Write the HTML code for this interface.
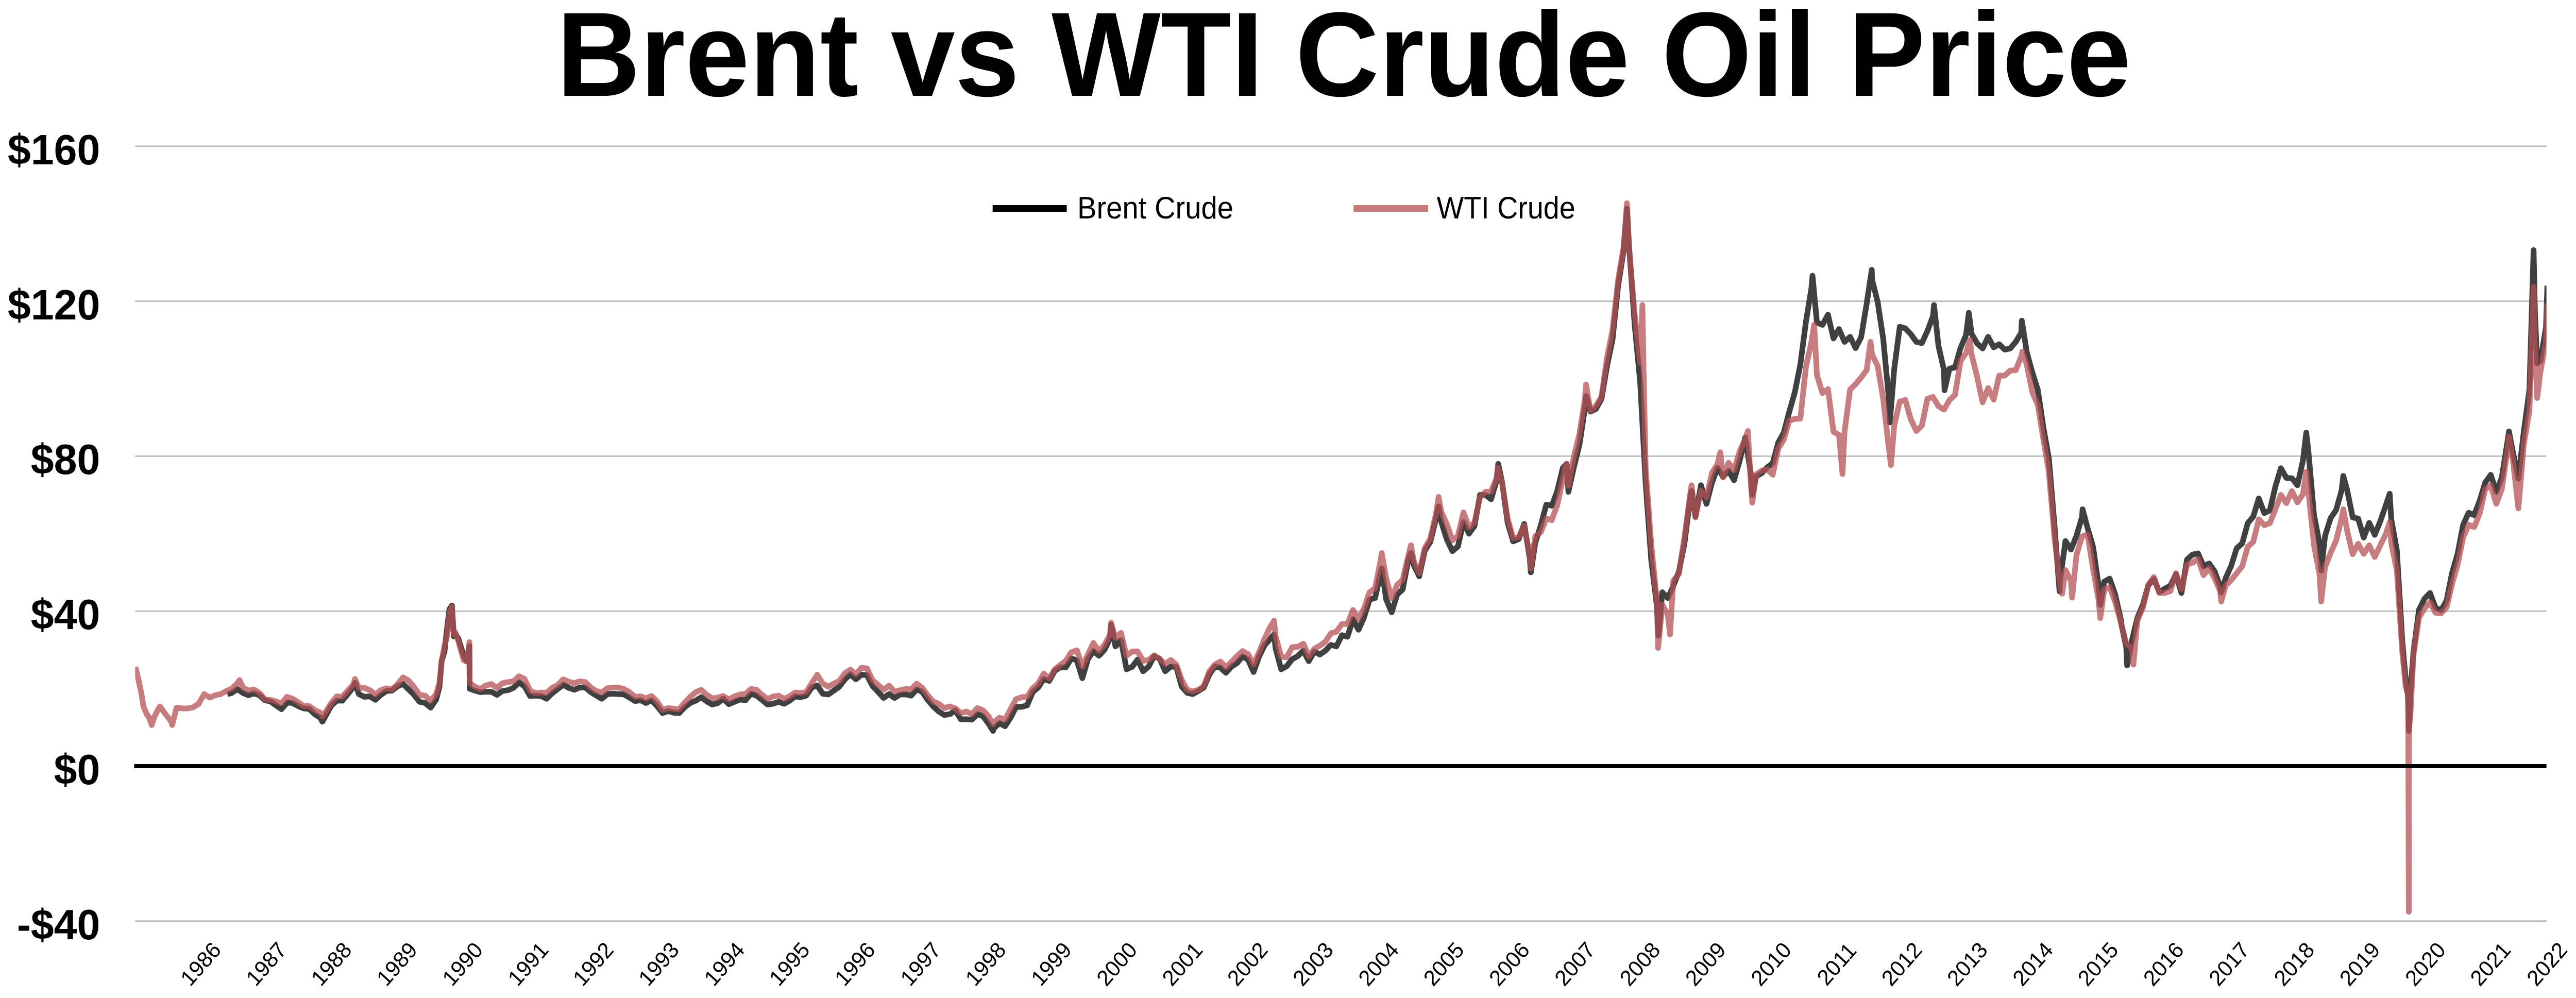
<!DOCTYPE html>
<html>
<head>
<meta charset="utf-8">
<style>
  html, body { margin: 0; padding: 0; background: #ffffff; width: 100%; height: 100%; overflow: hidden; }
  svg { display: block; position: fixed; left: 0; top: 0; width: 100vw; height: 100vh; }
  text { font-family: "Liberation Sans", Arial, Helvetica, sans-serif; }
</style>
</head>
<body>
<svg xmlns="http://www.w3.org/2000/svg" viewBox="0 0 5146 1937" preserveAspectRatio="none">
  <rect x="0" y="0" width="5146" height="1937" fill="#ffffff"/>
  <defs>
    <clipPath id="plot"><rect x="270" y="0" width="4817" height="1937"/></clipPath>
  </defs>

  <!-- Title -->
  <text x="1112" y="186" font-size="233" font-weight="bold" fill="#000" textLength="3145" lengthAdjust="spacingAndGlyphs">Brent vs WTI Crude Oil Price</text>

  <!-- Gridlines -->
  <g stroke="#bfbfbf" stroke-width="3">
    <line x1="270" y1="283.8" x2="5087" y2="283.8"/>
    <line x1="270" y1="584.6" x2="5087" y2="584.6"/>
    <line x1="270" y1="885.4" x2="5087" y2="885.4"/>
    <line x1="270" y1="1186.2" x2="5087" y2="1186.2"/>
    <line x1="270" y1="1787.8" x2="5087" y2="1787.8"/>
  </g>

  <!-- Y labels -->
  <g font-size="83" font-weight="bold" fill="#000" text-anchor="end">
    <text x="200" y="319">$160</text>
    <text x="200" y="620">$120</text>
    <text x="200" y="920">$80</text>
    <text x="200" y="1221">$40</text>
    <text x="200" y="1522">$0</text>
    <text x="200" y="1823">-$40</text>
  </g>

  <!-- Legend -->
  <rect x="1983" y="398" width="148" height="13" fill="#000"/>
  <text x="2152" y="424" font-size="60" fill="#000" textLength="312" lengthAdjust="spacingAndGlyphs">Brent Crude</text>
  <rect x="2704" y="398" width="149" height="13" fill="rgb(199,120,122)"/>
  <text x="2870" y="424" font-size="60" fill="#000" textLength="277" lengthAdjust="spacingAndGlyphs">WTI Crude</text>

  <!-- Data -->
  <g clip-path="url(#plot)">
    <g transform="translate(275.5,1487) scale(11.0333,-7.52)">
      <!-- Brent -->
      <polyline fill="none" stroke="#404040" stroke-width="11" vector-effect="non-scaling-stroke" stroke-linejoin="round" points="
16.2,18.6 17,18.9 18,19.9 19,18.9 20,18.3 21,18.8 22,18.3 23,17.0
24,16.7 25,15.7 26,14.7 27,16.4 28,16.3 29,15.5 30,14.9 31,14.8 32,13.4 33,12.5 33.4,11.5 34,13.0 35,15.6
36,16.9 37,16.9 38,18.6 39,20.4 39.3,21.5 40,18.6 41,17.9 42,18.0 43,17.1 44,18.4 45,19.4 46,19.5 47,20.6
48,21.2 49,19.8 50,18.4 51,16.6 52,16.3 53,15.1 54,17.2 54.6,20.5 55,27.2 55.5,29.5 56,35.9 56.4,40.5 56.86,41.45 57.2,33.5 57.5,34 58,33.0 59,28.4
59.6,27 60.02,31 60.06,20 61,19.5 62,19.1 63,19.2 64,19.2 65,18.4 66,19.4 67,19.6 68,20.2 69,21.6 70,20.6 71,18.1
72,18.2 73,18.1 74,17.4 75,18.8 76,19.9 77,21.0 78,20.2 79,19.7 80,20.3 81,20.3 82,19.1 83,18.2
84,17.4 85,18.6 86,18.7 87,18.6 88,18.5 89,17.7 90,16.8 91,17.0 92,16.3 93,17.0 94,15.5 95,13.7
96,14.2 97,13.8 98,13.7 99,15.2 100,16.3 101,16.9 102,17.8 103,16.7 104,15.9 105,16.3 106,17.4 107,16.0
108,16.6 109,17.2 110,17.0 111,18.7 112,18.2 113,17.1 114,15.9 115,16.1 116,16.6 117,16.1 118,16.9 119,18.0
120,17.8 121,18.2 122,20.3 123,20.8 124,18.7 125,18.5 126,19.5 127,20.5 128,22.4 129,23.7 130,22.4 131,23.6
132,23.5 133,20.7 134,19.2 135,17.6 136,18.6 137,17.6 138,18.5 139,18.5 140,18.2 141,19.8 142,19.2 143,17.1
144,15.4 145,14.1 146,13.2 147,13.4 148,14.4 149,12.1 150,12.1 151,12.0 152,13.4 153,12.9 154,11.0 154.83,9.1 155,9.8
156,11.1 157,10.3 158,12.5 159,15.3 160,15.3 161,15.7 162,19.1 163,20.3 164,22.5 165,22.0 166,24.6 167,25.5
168,25.5 169,27.8 170,27.3 171,22.7 172,27.6 173,29.7 174,28.5 175,30.0 176,33.0 176.2,36.5 177,30.9 178,32.5 179,25.0
180,25.6 181,27.5 182,24.5 183,25.7 184,28.4 185,27.7 186,24.5 187,25.7 188,25.6 189,20.5 190,18.9 191,18.6
192,19.4 193,20.3 194,23.7 195,25.7 196,25.4 197,24.1 198,25.7 199,26.6 200,28.3 201,27.5 202,24.3 203,28.3
204,31.2 205,32.8 205.7,34 206,30.3 207,25.0 208,25.8 209,27.6 210,28.4 211,29.8 212,27.1 213,29.6 214,28.8 215,29.8
216,31.3 217,30.9 218,33.8 219,33.4 220,37.9 221,35.2 222,38.4 223,43.0 224,43.4 225,49.8 225.2,51 226,43.1 227,39.7
228,44.3 229,45.6 230,53.1 230.5,55 231,51.9 232,49.0 233,55.6 234,57.9 235,63.7 235.5,67 236,63.0 237,58.5 238,55.5 239,56.7
240,63.0 241,60.0 242,62.0 243,70.0 244,70.0 245,68.9 246,73.7 246.3,78 247,73.2 248,62.8 249,58.0 250,58.6 251,62.5
252,53.7 252.2,50 253,57.6 254,62.1 255,67.5 256,67.2 257,71.1 258,77.0 258.7,78 259,70.8 260,77.2 261,82.9 262,92.5 262.2,95.5 263,91.5
264,92.2 265,94.8 266,103.3 267,110.2 268,123.9 269,133.1 269.6,143.9 270,133.9 271,113.9 272,99.1 273,72.7 274,53.2 275,41.6 275.3,33.7
276,44.9 277,43.4 278,46.5 279,50.2 280,57.3 281,68.6 281.3,71 282,64.4 283,72.5 284,67.7 285,73.2 286,77.0 287,74.7
288,76.2 289,73.8 290,78.8 291,84.8 292,75.9 292.3,70 293,74.8 294,75.6 295,77.1 296,78.2 297,83.5 298,86.1 299,91.5
300,96.5 301,103.7 302,114.6 303,123.3 303.2,126.6 304,114.5 305,113.9 306,116.5 307,110.4 308,112.8 309,109.5 310,110.8 311,107.9
312,110.7 313,119.3 313.93,128.1 314,125.5 315,119.8 316,110.3 317,95.2 317.2,88.7 318,102.6 319,113.4 320,113.0 321,111.5 322,109.5 323,109.2
324,112.3 325,116.1 325.2,119 326,108.5 327,102.3 327.1,97 328,102.6 329,102.9 330,107.9 331,111.3 331.5,117 332,111.6 333,109.1 334,107.8 335,110.8
336,108.1 337,108.9 338,107.5 339,107.8 340,109.5 341,111.9 341.1,115 342,106.8 343,101.6 344,97.1 345,87.4 346,79.4 347,62.3
347.93,45.1 348,47.8 349,58.1 350,55.9 351,59.5 352,64.3 352.1,66.3 353,61.5 354,56.6 355,46.5 355.3,41.6 356,47.6 357,48.4 358,44.3 359,38.0 359.2,36.1
360,30.7 360.16,26.0 361,32.2 362,38.2 363,41.6 364,46.7 365,48.3 366,44.9 367,45.8 368,46.6 369,49.5 370,44.7 371,53.3
372,54.6 373,54.9 374,51.6 375,52.3 376,50.3 377,46.4 377.2,44.8 378,48.5 379,51.7 380,56.2 381,57.5 382,62.7 383,64.4
384,69.1 385,65.3 386,66.0 387,72.1 388,76.9 389,74.4 390,74.3 391,72.5 392,78.9 392.6,86.1 393,81.0 394,64.8 395,57.4 395.3,50.5
396,59.4 397,64.0 398,66.1 399,71.2 399.3,74.9 400,71.3 401,64.2 402,63.9 403,59.0 404,62.8 405,59.7 406,63.2 407,67.3
407.7,70.3 408,63.6 409,55.7 410,32.0 410.6,22.5 411,18.4 411.19,9.1 411.5,20 412,29.4 413,40.3 414,43.2 415,44.7 416,40.9 417,40.2 418,42.7 419,49.9
420,54.8 421,62.3 422,65.4 423,64.8 424,68.5 425,73.2 426,75.2 427,70.8 428,74.5 429,83.5 429.3,86.4 430,81.1 431,74.2
432,86.5 433,97.1 433.76,133.2 434,117.3 434.4,104 435,104.6 436,113.3 436.25,124"/>
      <!-- WTI -->
      <polyline fill="none" stroke="rgb(180,80,84)" stroke-opacity="0.75" stroke-width="11" vector-effect="non-scaling-stroke" stroke-linejoin="round" points="
-0.45,25.6 0,22.9 0.6,19.0 1,15.4 1.6,13.4 2,12.6 2.5,10.6 3,12.8 3.6,14.5 4,15.4 5,13.4 6,11.6 6.2,10.6 7,15.1 8,14.9 9,14.9 10,15.2 11,16.1
12,18.6 13,17.7 14,18.3 15,18.6 16,19.4 17,20.0 18,21.4 18.4,22.2 19,20.3 20,19.5 21,19.8 22,18.9 23,17.2
24,17.1 25,16.7 26,16.2 27,17.9 28,17.4 29,16.5 30,15.5 31,15.5 32,14.5 33,13.8 33.4,12.8 34,14.0 35,16.3
36,18.0 37,17.9 38,19.5 39,21.1 39.3,22.5 40,20.2 41,20.2 42,19.6 43,18.5 44,19.6 45,20.1 46,19.8 47,21.1
48,22.9 49,22.1 50,20.4 51,18.4 52,18.2 53,16.9 54,18.6 54.6,21.5 55,27.2 55.5,31 56,33.7 56.4,39.5 56.86,41.1 57.2,34 57.5,34.5 58,32.3 59,27.3
59.6,27 60.02,32 60.06,21.5 61,20.5 62,19.9 63,20.8 64,21.2 65,20.2 66,21.4 67,21.7 68,21.9 69,23.2 70,22.5 71,19.5
72,18.8 73,19.0 74,18.9 75,20.2 76,20.9 77,22.4 78,21.8 79,21.4 80,21.9 81,21.7 82,20.3 83,19.4
84,19.0 85,20.1 86,20.3 87,20.3 88,19.9 89,19.1 90,17.9 91,18.0 92,17.5 93,18.1 94,16.7 95,14.5
96,15.0 97,14.8 98,14.7 99,16.4 100,17.9 101,19.1 102,19.7 103,18.4 104,17.5 105,17.7 106,18.1 107,17.2
108,18.0 109,18.5 110,18.6 111,19.9 112,19.7 113,18.4 114,17.3 115,18.0 116,18.2 117,17.4 118,18.0 119,19.0
120,18.9 121,19.1 122,21.4 123,23.6 124,21.3 125,20.5 126,21.3 127,22.0 128,24.0 129,24.9 130,23.7 131,25.4
132,25.2 133,22.2 134,21.0 135,19.7 136,20.8 137,19.2 138,19.6 139,19.9 140,19.8 141,21.3 142,20.2 143,18.3
144,16.7 145,16.1 146,15.0 147,15.4 148,14.9 149,13.7 150,14.1 151,13.4 152,15.0 153,14.4 154,12.9 154.83,10.8 155,11.3
156,12.5 157,12.0 158,14.7 159,17.3 160,17.8 161,17.9 162,20.1 163,21.3 164,23.9 165,22.6 166,25.0 167,26.1
168,27.2 169,29.4 170,29.9 171,25.7 172,28.8 173,31.8 174,29.7 175,31.3 176,33.9 176.2,37 177,33.1 178,34.4 179,28.5
180,29.6 181,29.6 182,27.2 183,27.4 184,28.6 185,27.6 186,26.4 187,27.4 188,26.2 189,22.2 190,19.7 191,19.3
192,19.7 193,20.7 194,24.5 195,26.2 196,27.0 197,25.5 198,26.9 199,28.4 200,29.7 201,28.9 202,26.3 203,29.4
204,32.9 205,35.9 205.7,37.5 206,33.5 207,28.2 208,28.1 209,30.7 210,30.8 211,31.6 212,28.3 213,30.3 214,31.1 215,32.1
216,34.3 217,34.7 218,36.7 219,36.7 220,40.3 221,38.0 222,40.7 223,44.9 224,45.9 225,53.1 225.2,55 226,48.5 227,43.3
228,46.8 229,48.1 230,54.2 230.5,57 231,53.0 232,49.8 233,56.3 234,58.7 235,65.0 235.5,69.5 236,65.6 237,62.4 238,58.3 239,59.4
240,65.5 241,61.6 242,62.9 243,69.4 244,70.8 245,70.9 246,74.4 246.2,77 247,73.1 248,63.9 249,58.9 250,59.1 251,62.0
252,54.5 252.2,51 253,59.3 254,60.4 255,63.9 256,63.5 257,67.5 258,74.1 258.6,78 259,72.4 260,79.9 261,85.8 262,94.8 262.2,98.5 263,91.7
264,93.0 265,95.4 266,105.5 267,112.6 268,125.4 269,133.9 269.6,145.3 270,133.4 271,116.7 272,104.1 272.4,119 272.6,103 273,76.6 274,57.3 275,43 275.25,30.5
276,41.7 277,39.1 277.4,34 278,47.9 279,49.6 280,59.0 281,69.6 281.3,72.5 282,64.2 283,71.1 284,69.4 285,75.7 286,78.0 286.5,81 287,74.5
288,78.3 289,76.4 290,81.2 291,84.3 291.5,86.5 292,73.7 292.3,68 293,75.3 294,76.3 295,76.6 296,75.2 297,81.9 298,84.3 299,89.2
300,89.6 301,89.7 302,102.9 303,109.5 303.5,113.9 304,100.9 305,96.3 306,97.3 307,86.3 308,85.5 308.63,75.4 309,86.3 310,97.2 311,98.6
312,100.3 313,102.2 313.7,109.5 314,106.2 315,103.3 316,94.7 317,82.3 317.4,77.7 318,87.9 319,94.1 320,94.5 321,89.5 322,86.5 323,87.9
324,94.8 325,95.3 326,92.9 327,92.0 328,94.5 329,95.8 330,104.6 331,106.6 331.7,110 332,106.3 333,100.5 334,93.9 335,97.6
336,94.6 337,100.8 338,100.8 339,102.1 340,102.2 341,105.8 341.2,107 342,103.6 343,96.5 344,93.2 345,84.4 346,75.8 347,59.3
348,47.2 348.4,44.5 349,50.6 350,47.8 350.2,43.5 351,54.5 352,59.3 353,59.8 354,50.9 355,42.9 355.3,38.2 356,45.5 357,46.2 358,42.4 359,37.2
360,31.7 361,30.3 361.3,26.2 362,37.5 363,40.8 364,46.7 365,48.8 366,44.7 367,44.7 368,45.2 369,49.8 370,45.7 371,52.0
372,52.5 373,53.5 374,49.3 375,51.1 376,48.5 377,45.2 377.2,42.5 378,46.6 379,48.0 380,49.8 381,51.6 382,56.6 383,57.9
384,63.7 385,62.2 386,62.7 387,66.3 388,70.0 389,67.9 390,71.0 391,68.1 392,70.2 392.6,76 393,70.8 394,57.0 395,49.5 395.3,42.5
396,51.4 397,55.0 398,58.2 399,63.9 399.3,66.3 400,60.8 401,54.7 402,57.4 403,54.8 404,57.0 405,54.0 406,57.0 407,59.9
407.7,63 408,57.5 409,50.5 410,29.2 410.6,20.5 411.06,18.3 411.16,-37.6 411.19,10.0 411.42,12.3 412,28.6 413,38.3 414,40.7 415,42.3 416,39.6 417,39.4 418,41.0 419,47.0
420,52.0 421,59.0 422,62.3 423,61.7 424,65.2 425,71.4 426,72.5 427,67.7 428,71.5 429,81.2 429.3,85 430,79.2 431,66.5
432,83.2 433,91.6 433.76,123.7 434,108.5 434.4,95 435,101.8 436,109.6 436.25,119.5"/>
    </g>
  </g>

  <!-- Zero line -->
  <line x1="268" y1="1487" x2="5087" y2="1487" stroke="#000" stroke-width="8"/>

  <!-- X labels -->
  <g font-size="43" fill="#000" text-anchor="middle" dominant-baseline="central">
    <text x="401" y="1871" transform="rotate(-48 401 1871)">1986</text>
    <text x="532" y="1871" transform="rotate(-48 532 1871)">1987</text>
    <text x="662" y="1871" transform="rotate(-48 662 1871)">1988</text>
    <text x="793" y="1871" transform="rotate(-48 793 1871)">1989</text>
    <text x="924" y="1871" transform="rotate(-48 924 1871)">1990</text>
    <text x="1055" y="1871" transform="rotate(-48 1055 1871)">1991</text>
    <text x="1185" y="1871" transform="rotate(-48 1185 1871)">1992</text>
    <text x="1316" y="1871" transform="rotate(-48 1316 1871)">1993</text>
    <text x="1447" y="1871" transform="rotate(-48 1447 1871)">1994</text>
    <text x="1577" y="1871" transform="rotate(-48 1577 1871)">1995</text>
    <text x="1708" y="1871" transform="rotate(-48 1708 1871)">1996</text>
    <text x="1839" y="1871" transform="rotate(-48 1839 1871)">1997</text>
    <text x="1969" y="1871" transform="rotate(-48 1969 1871)">1998</text>
    <text x="2100" y="1871" transform="rotate(-48 2100 1871)">1999</text>
    <text x="2231" y="1871" transform="rotate(-48 2231 1871)">2000</text>
    <text x="2362" y="1871" transform="rotate(-48 2362 1871)">2001</text>
    <text x="2492" y="1871" transform="rotate(-48 2492 1871)">2002</text>
    <text x="2623" y="1871" transform="rotate(-48 2623 1871)">2003</text>
    <text x="2754" y="1871" transform="rotate(-48 2754 1871)">2004</text>
    <text x="2884" y="1871" transform="rotate(-48 2884 1871)">2005</text>
    <text x="3015" y="1871" transform="rotate(-48 3015 1871)">2006</text>
    <text x="3146" y="1871" transform="rotate(-48 3146 1871)">2007</text>
    <text x="3276" y="1871" transform="rotate(-48 3276 1871)">2008</text>
    <text x="3407" y="1871" transform="rotate(-48 3407 1871)">2009</text>
    <text x="3538" y="1871" transform="rotate(-48 3538 1871)">2010</text>
    <text x="3669" y="1871" transform="rotate(-48 3669 1871)">2011</text>
    <text x="3799" y="1871" transform="rotate(-48 3799 1871)">2012</text>
    <text x="3930" y="1871" transform="rotate(-48 3930 1871)">2013</text>
    <text x="4061" y="1871" transform="rotate(-48 4061 1871)">2014</text>
    <text x="4191" y="1871" transform="rotate(-48 4191 1871)">2015</text>
    <text x="4322" y="1871" transform="rotate(-48 4322 1871)">2016</text>
    <text x="4453" y="1871" transform="rotate(-48 4453 1871)">2017</text>
    <text x="4583" y="1871" transform="rotate(-48 4583 1871)">2018</text>
    <text x="4714" y="1871" transform="rotate(-48 4714 1871)">2019</text>
    <text x="4845" y="1871" transform="rotate(-48 4845 1871)">2020</text>
    <text x="4975" y="1871" transform="rotate(-48 4975 1871)">2021</text>
    <text x="5088" y="1871" transform="rotate(-48 5088 1871)">2022</text>
  </g>
</svg>
</body>
</html>
